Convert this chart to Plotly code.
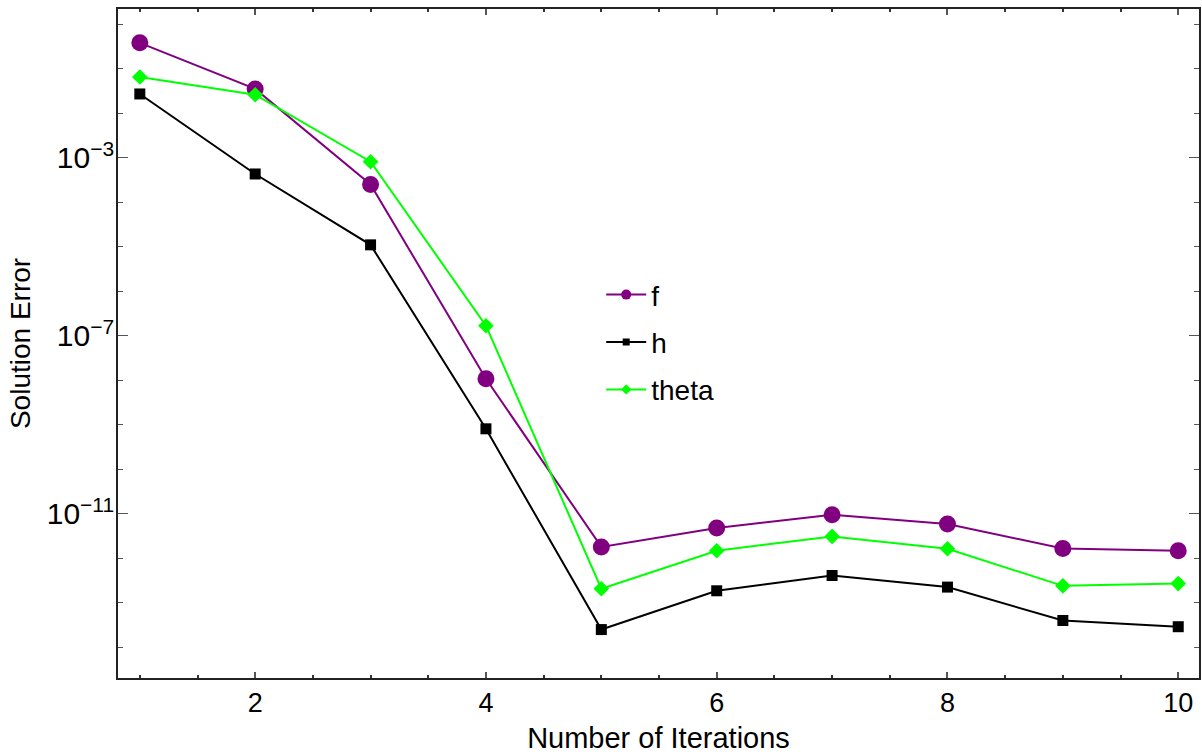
import plotly.graph_objects as go

# Convergence of the solution error per iteration
iterations = [1, 2, 3, 4, 5, 6, 7, 8, 9, 10]
err_f = [0.38, 0.035, 2.5e-4, 1.08e-8, 1.8e-12, 4.8e-12, 9.5e-12, 5.9e-12, 1.65e-12, 1.47e-12]
err_h = [0.027, 4.3e-4, 1.1e-5, 8.1e-10, 2.5e-14, 1.86e-13, 4.1e-13, 2.25e-13, 4.0e-14, 2.9e-14]
err_theta = [0.065, 0.026, 8.1e-4, 1.68e-7, 2.07e-13, 1.48e-12, 3.1e-12, 1.63e-12, 2.4e-13, 2.7e-13]

series_names = ["f", "h", "theta"]
series_values = [err_f, err_h, err_theta]
colors = ["#800080", "#000000", "#00ff00"]
symbols = ["circle", "square", "diamond"]
plot_sizes = [17, 11, 12]
legend_sizes = [10, 7, 8]

FONT = "Liberation Sans, Arial, sans-serif"

fig = go.Figure()
for name, vals, col, sym, ps in zip(series_names, series_values, colors, symbols, plot_sizes):
    fig.add_trace(go.Scatter(
        x=iterations, y=vals, mode="lines+markers", name=name,
        line=dict(color=col, width=2),
        marker=dict(symbol=sym, size=ps, color=col),
        showlegend=False,
    ))
# legend entries with smaller glyphs
for i, (name, col, sym, ls) in enumerate(zip(series_names, colors, symbols, legend_sizes)):
    fig.add_trace(go.Scatter(
        x=[None], y=[None], mode="lines+markers", name=name,
        line=dict(color=col, width=2),
        marker=dict(symbol=sym, size=ls, color=col),
        legendgroup=f"g{i}",
    ))

axis_common = dict(
    showline=True, linecolor="#222222", linewidth=2, mirror="allticks",
    ticks="inside", tickcolor="#555555", showgrid=False, zeroline=False,
    automargin=False,
)

fig.update_xaxes(
    range=[0.811, 10.18], tick0=0, dtick=2, ticklen=6, tickwidth=1.5,
    tickfont=dict(family=FONT, size=27, color="#000000"),
    minor=dict(dtick=0.5, tick0=0, ticks="inside", ticklen=3, tickcolor="#333333", tickwidth=1.5),
    title=dict(text="Number of Iterations", font=dict(family=FONT, size=29, color="#000000"), standoff=14),
    **axis_common,
)
fig.update_yaxes(
    type="log", range=[-14.69, 0.34], tick0=-3, dtick=4, ticklen=10, tickwidth=1,
    exponentformat="power", ticklabelstandoff=-3,
    tickfont=dict(family=FONT, size=24, color="#000000"),
    minor=dict(dtick=1, tick0=0, ticks="inside", ticklen=5, tickcolor="#555555", tickwidth=1),
    title=dict(text="Solution Error", font=dict(family=FONT, size=28, color="#000000"), standoff=8),
    **axis_common,
)

fig.update_layout(
    width=1202, height=754,
    margin=dict(l=118, r=3, t=9, b=76),
    plot_bgcolor="white", paper_bgcolor="white",
    legend=dict(
        x=0.447, y=0.61, xanchor="left", yanchor="top",
        font=dict(family=FONT, size=28, color="#000000"),
        bgcolor="rgba(0,0,0,0)", tracegroupgap=8, itemwidth=40,
    ),
)

fig.write_html("out.html")
